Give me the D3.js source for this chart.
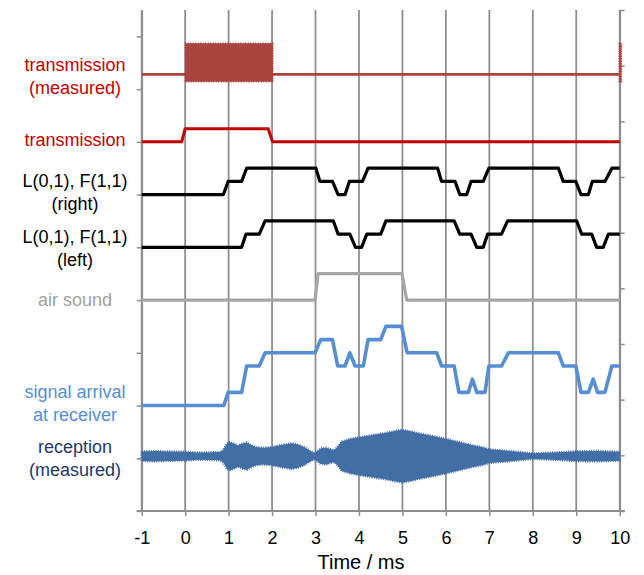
<!DOCTYPE html>
<html><head><meta charset="utf-8">
<script src="https://cdn.jsdelivr.net/npm/d3@7"></script>
<style>
body{margin:0;background:#fff;}
svg{display:block;font-family:"Liberation Sans",Arial,sans-serif;}
</style>
</head><body>
<svg id="chart" width="644" height="575"></svg>
<script>
// ---------------- DATA ----------------
const xTickValues = [-1,0,1,2,3,4,5,6,7,8,9,10];
const leftTickValues = [0,1,2,3,4,5,6,7,8,9];
const rightTickValues = [0,1,2,3,4,5,6,7,8,9];
const xTitle = "Time / ms";

// baselines of each trace (left-axis units)
const transMeasBase = 8.28;
const transBase = 7;
const lRightBase = 6;
const lLeftBase = 5;
const airBase = 4;
const signalBase = 2;
const receptionBase = 1.04;

// transmission (measured): burst envelopes [t, lower, upper] relative to baseline
const transMeasBurst1 = [[0,-0.14,0.59],[2.02,-0.14,0.59]];
const transMeasBurst2 = [[9.99,-0.14,0.59],[10.04,-0.14,0.59]];
const transMeasSpan = [-1, 10];

// transmission: [t, level]
const transmission = [[-1,0],[-0.08,0],[0,0.25],[1.91,0.25],[2.01,0],[10,0]];

// L(0,1), F(1,1) (right)
const lRight = [[-1,0],[0.88,0],[0.99,0.25],[1.30,0.25],[1.415,0.5],[3.01,0.5],[3.1,0.25],[3.39,0.25],[3.52,0],[3.68,0],[3.78,0.25],[4.08,0.25],[4.21,0.5],[5.81,0.5],[5.90,0.25],[6.21,0.25],[6.32,0],[6.48,0],[6.58,0.25],[6.86,0.25],[6.99,0.5],[8.59,0.5],[8.70,0.25],[8.99,0.25],[9.11,0],[9.28,0],[9.37,0.25],[9.66,0.25],[9.82,0.5],[10,0.5]];

// L(0,1), F(1,1) (left)
const lLeft = [[-1,0],[1.30,0],[1.40,0.25],[1.705,0.25],[1.84,0.5],[3.41,0.5],[3.52,0.25],[3.79,0.25],[3.92,0],[4.06,0],[4.18,0.25],[4.5,0.25],[4.62,0.5],[6.19,0.5],[6.32,0.25],[6.58,0.25],[6.71,0],[6.86,0],[6.96,0.25],[7.28,0.25],[7.42,0.5],[9.01,0.5],[9.125,0.25],[9.355,0.25],[9.47,0],[9.62,0],[9.74,0.25],[10,0.25]];

// air sound
const airSound = [[-1,0],[2.99,0],[3.06,0.5],[4.99,0.5],[5.1,0],[10,0]];

// signal arrival at receiver
const signalArrival = [[-1,0],[0.89,0],[0.99,0.25],[1.30,0.25],[1.415,0.75],[1.705,0.75],[1.84,1.0],[2.99,1.0],[3.12,1.25],[3.39,1.25],[3.51,0.75],[3.68,0.75],[3.79,1.0],[3.91,0.75],[4.1,0.75],[4.21,1.25],[4.5,1.25],[4.62,1.5],[4.98,1.5],[5.11,1.0],[5.79,1.0],[5.90,0.75],[6.19,0.75],[6.30,0.25],[6.52,0.25],[6.61,0.5],[6.71,0.25],[6.9,0.25],[6.99,0.75],[7.28,0.75],[7.44,1.0],[8.59,1.0],[8.70,0.75],[8.99,0.75],[9.11,0.25],[9.28,0.25],[9.39,0.5],[9.49,0.25],[9.66,0.25],[9.82,0.75],[10,0.75]];

// reception (measured): envelope half-amplitude [t, amp]
const receptionEnvelope = [[-1,0.09],[-0.7,0.1],[-0.4,0.09],[0,0.085],[0.3,0.07],[0.6,0.075],[0.8,0.08],[0.88,0.12],[0.95,0.23],[1.02,0.27],[1.12,0.24],[1.22,0.2],[1.32,0.24],[1.42,0.26],[1.52,0.21],[1.62,0.175],[1.8,0.16],[2.0,0.175],[2.2,0.21],[2.45,0.245],[2.6,0.22],[2.75,0.17],[2.88,0.1],[2.97,0.06],[3.05,0.1],[3.12,0.15],[3.25,0.16],[3.35,0.13],[3.42,0.11],[3.5,0.17],[3.6,0.28],[3.8,0.33],[4.0,0.36],[4.3,0.4],[4.6,0.44],[4.85,0.48],[5.0,0.5],[5.2,0.47],[5.4,0.43],[5.6,0.4],[5.8,0.365],[6.0,0.33],[6.3,0.27],[6.6,0.21],[6.85,0.17],[7.0,0.13],[7.3,0.11],[7.7,0.08],[8.0,0.055],[8.3,0.065],[8.7,0.08],[9.0,0.095],[9.5,0.1],[10,0.085]];

// labels
const labelTexts = [
  ["transmission","(measured)"],
  ["transmission"],
  ["L(0,1), F(1,1)","(right)"],
  ["L(0,1), F(1,1)","(left)"],
  ["air sound"],
  ["signal arrival","at receiver"],
  ["reception","(measured)"]
];

// ---------------- DRAW ----------------
const svg = d3.select("#chart");
const x = d3.scaleLinear().domain([-1,10]).range([141.7,619.7]);
const yL = d3.scaleLinear().domain([0,9.5]).range([511,10]);
const yR = d3.scaleLinear().domain([0,9]).range([511,10]);
const gridColor = "#8e8e8e";

// vertical grid
svg.append("g").selectAll("line").data(xTickValues).join("line")
  .attr("x1", d=>x(d)).attr("x2", d=>x(d))
  .attr("y1", yL.range()[1]).attr("y2", yL.range()[0])
  .attr("stroke", gridColor).attr("stroke-width", 1.8);

// axes
const xAxis = svg.append("g").attr("transform", `translate(0,${yL(0)})`)
  .call(d3.axisBottom(x).tickValues(xTickValues).tickSize(5).tickSizeOuter(0).tickPadding(15).tickFormat(d=>String(d)));
const yAxisL = svg.append("g").attr("transform", `translate(${x(-1)},0)`)
  .call(d3.axisLeft(yL).tickValues(leftTickValues).tickSize(5).tickSizeOuter(0).tickFormat(""));
const yAxisR = svg.append("g").attr("transform", `translate(${x(10)},0)`)
  .call(d3.axisRight(yR).tickValues(rightTickValues).tickSize(5).tickSizeOuter(0).tickFormat(""));
[xAxis,yAxisL,yAxisR].forEach(g=>{
  g.selectAll("path.domain").attr("stroke", gridColor).attr("stroke-width",1.8);
  g.selectAll(".tick line").attr("stroke", gridColor).attr("stroke-width",1.5);
});
xAxis.select("path.domain").remove();
svg.append("line").attr("x1", x(-1)-5).attr("x2", x(10)+5).attr("y1", yL(0)).attr("y2", yL(0))
  .attr("stroke", gridColor).attr("stroke-width", 1.8);
xAxis.selectAll(".tick text").attr("font-size", 18).attr("fill", "#000")
  .attr("font-family", "Liberation Sans, Arial, sans-serif");

svg.append("text").attr("x", 361).attr("y", 569).attr("text-anchor","middle")
  .attr("font-size", 20).attr("fill","#000").text(xTitle);

// helpers
const stepLine = base => d3.line().x(d=>x(d[0])).y(d=>yL(base + d[1]));
function drawLine(data, base, color, width){
  svg.append("path").datum(data).attr("d", stepLine(base)).attr("fill","none")
    .attr("stroke", color).attr("stroke-width", width)
    .attr("stroke-linejoin","round").attr("stroke-linecap","butt");
}

// transmission (measured)
const tmColor = "#a8433e";
svg.append("line").attr("x1", x(transMeasSpan[0])).attr("x2", x(transMeasSpan[1]))
  .attr("y1", yL(transMeasBase)).attr("y2", yL(transMeasBase))
  .attr("stroke", tmColor).attr("stroke-width", 2.6);
const burstArea = d3.area().x(d=>x(d[0])).y0(d=>yL(transMeasBase + d[1])).y1(d=>yL(transMeasBase + d[2]));
[transMeasBurst1, transMeasBurst2].forEach(b=>{
  svg.append("path").datum(b).attr("d", burstArea).attr("fill", tmColor)
    .attr("stroke", tmColor).attr("stroke-width", 1.5).attr("stroke-dasharray", "1,1.5");
});

// lines
drawLine(transmission, transBase, "#c00000", 3);
drawLine(lRight, lRightBase, "#000", 3.2);
drawLine(lLeft, lLeftBase, "#000", 3.2);
drawLine(airSound, airBase, "#a6a6a6", 3.2);
drawLine(signalArrival, signalBase, "#558ed5", 3.6);

// reception (measured)
const recColor = "#426ea6";
const recArea = d3.area().x(d=>x(d[0]))
  .y0(d=>yL(receptionBase - d[1])).y1(d=>yL(receptionBase + d[1]));
svg.append("path").datum(receptionEnvelope).attr("d", recArea).attr("fill", recColor);
svg.append("path").datum(receptionEnvelope).attr("d", recArea).attr("fill", "none")
  .attr("stroke", recColor).attr("stroke-width", 2.2).attr("stroke-dasharray", "1,1.3");

// labels
const labelColors = ["#c00000","#c00000","#000","#000","#a0a0a0","#558ed5","#1f3864"];
const labelFirstBaseline = [71, 145.5, 186.7, 242.7, 306, 397.5, 452.7];
const lineGap = 23;
labelTexts.forEach((lines,i)=>{
  const t = svg.append("text").attr("text-anchor","middle").attr("font-size",18)
    .attr("fill", labelColors[i]);
  lines.forEach((s,j)=>{
    t.append("tspan").attr("x", 75).attr("y", labelFirstBaseline[i] + j*lineGap).text(s);
  });
});
</script>
</body></html>
